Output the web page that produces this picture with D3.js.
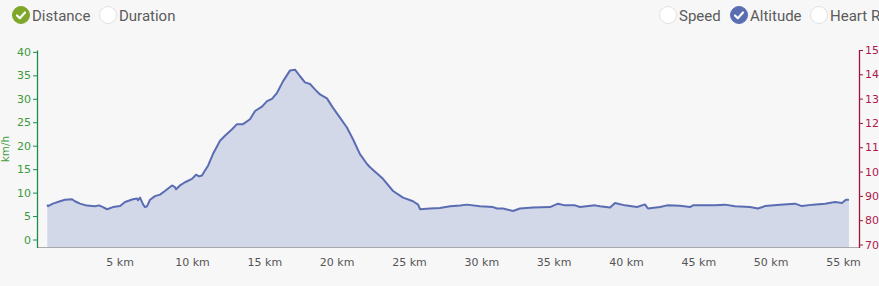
<!DOCTYPE html>
<html>
<head>
<meta charset="utf-8">
<script src="https://cdn.jsdelivr.net/npm/d3@7"></script>
<style>
  html, body { margin: 0; padding: 0; background: #f7f7f7; }
  svg { display: block; }
  .legend text { font-family: Roboto, sans-serif; font-size: 15px; fill: #5b5b5b; }
  .axis text { font-family: "DejaVu Sans", Verdana, sans-serif; font-size: 11px; }
</style>
</head>
<body>
<div id="chart-area"></div>
<script>
// SVG Size
var width = 879,
	height = 286;

// distance along the route (km) and altitude read from the profile
var distanceKm = [0, 0.05, 0.39, 0.88, 1.22, 1.71, 1.91, 2.26, 2.74, 3.30, 3.57, 3.85, 4.13, 4.54, 5.03,
	5.37, 5.92, 6.20, 6.27, 6.41, 6.62, 6.75, 6.89, 7.10, 7.44, 7.79, 8.13, 8.62, 8.82, 8.90,
	9.17, 9.52, 10.0, 10.28, 10.49, 10.69, 10.90, 11.11, 11.45, 11.94, 12.28, 12.77, 13.11, 13.53,
	14.01, 14.36, 14.84, 15.19, 15.53, 15.88, 16.29, 16.78, 17.12, 17.47, 17.81, 18.16, 18.50,
	18.85, 19.33, 19.75, 20.23, 20.71, 21.13, 21.61, 22.10, 22.31, 23.20, 23.90, 24.59, 25.28,
	25.63, 25.77, 26.46, 27.14, 27.84, 28.53, 29.01, 29.91, 30.81, 31.08, 31.50, 32.19, 32.67,
	33.57, 34.75, 35.30, 35.78, 36.48, 36.82, 37.86, 38.20, 38.90, 39.24, 39.93, 40.76, 41.31,
	41.52, 42.35, 42.84, 43.73, 44.42, 44.63, 45.46, 46.15, 46.84, 47.53, 48.57, 49.12, 49.61,
	50.64, 51.68, 52.16, 52.93, 53.76, 54.45, 54.93, 55.20, 55.41];

var altitude = [86.4, 85.8, 86.8, 87.8, 88.4, 88.6, 87.8, 86.8, 86.0, 85.7, 86.1, 85.4, 84.5, 85.4, 85.8,
	87.5, 88.6, 88.9, 88.2, 89.3, 86.5, 85.4, 85.7, 88.4, 89.9, 90.5, 92.0, 94.3, 93.6, 92.7,
	94.3, 95.6, 97.0, 98.7, 98.0, 98.4, 100.4, 102.4, 107.2, 112.7, 114.7, 117.4, 119.5, 119.5,
	121.5, 124.9, 126.7, 129.0, 129.9, 132.4, 137.1, 141.6, 141.9, 139.2, 136.7, 136.0, 133.8,
	131.7, 130.1, 126.2, 122.2, 118.1, 113.3, 107.2, 103.1, 101.8, 97.0, 92.0, 89.3, 87.8,
	86.4, 84.5, 84.8, 85.0, 85.7, 86.0, 86.4, 85.7, 85.4, 84.8, 84.8, 83.8, 84.8,
	85.2, 85.4, 86.8, 86.1, 86.1, 85.4, 86.1, 85.7, 85.2, 87.1, 86.1, 85.4, 86.5,
	84.8, 85.4, 86.1, 85.9, 85.4, 86.1, 86.1, 86.1, 86.4, 85.7, 85.4, 84.8, 85.8,
	86.4, 86.8, 85.8, 86.4, 86.8, 87.5, 87.1, 88.4, 88.4];

var speedTicks = [0, 5, 10, 15, 20, 25, 30, 35, 40];
var altitudeTicks = [70, 80, 90, 100, 110, 120, 130, 140, 150];
var kmTicks = [5, 10, 15, 20, 25, 30, 35, 40, 45, 50, 55];

var legendLeft = [{label: "Distance", on: true, color: "#7fa72a"}, {label: "Duration", on: false}];
var legendRight = [{label: "Speed", on: false}, {label: "Altitude", on: true, color: "#5a6db3"}, {label: "Heart Rate", on: false}];

var svg = d3.select("#chart-area").append("svg")
	.attr("width", width)
	.attr("height", height);

// plot box
var plotLeft = 37, plotRight = 859, plotTop = 50, plotBottom = 247.5;

var xScale = d3.scaleLinear().domain([0, 55]).range([47.3, 843]);
var speedScale = d3.scaleLinear().domain([-1.7, 40.4]).range([plotBottom, plotTop]);
var altScale = d3.scaleLinear().domain([68.77, 150.2]).range([plotBottom, 49.5]);

var points = distanceKm.map(function(d, i) { return {km: d, alt: altitude[i]}; });

// area + line
var area = d3.area()
	.x(function(d) { return xScale(d.km); })
	.y0(plotBottom)
	.y1(function(d) { return altScale(d.alt); });

var line = d3.line()
	.x(function(d) { return xScale(d.km); })
	.y(function(d) { return altScale(d.alt); });

svg.append("path")
	.datum(points)
	.attr("d", area)
	.attr("fill", "#d3d8e8");

svg.append("path")
	.datum(points)
	.attr("d", line)
	.attr("fill", "none")
	.attr("stroke", "#5a6db3")
	.attr("stroke-width", 2)
	.attr("stroke-linejoin", "round");

// x axis
svg.append("line")
	.attr("x1", plotLeft).attr("x2", plotRight)
	.attr("y1", plotBottom).attr("y2", plotBottom)
	.attr("stroke", "#aaaaaa").attr("stroke-width", 1.2);

var xAxis = d3.axisBottom(xScale).tickValues(kmTicks).tickSize(0).tickPadding(11)
	.tickFormat(function(d) { return d + " km"; });

var gx = svg.append("g")
	.attr("class", "axis xAxis")
	.attr("transform", "translate(0," + plotBottom + ")")
	.call(xAxis);
gx.select(".domain").remove();
gx.selectAll("text").attr("fill", "#555555");

// left axis (km/h)
var yAxisLeft = d3.axisLeft(speedScale).tickValues(speedTicks).tickSize(4).tickSizeOuter(0).tickPadding(2);
var gl = svg.append("g")
	.attr("class", "axis yAxisLeft")
	.attr("transform", "translate(" + plotLeft + ",0)")
	.call(yAxisLeft);
gl.select(".domain").attr("stroke", "#1e8a4c").attr("stroke-width", 1.3);
gl.selectAll(".tick line").attr("stroke", "#1e8a4c");
gl.selectAll("text").attr("fill", "#3e9a3a");

svg.append("text")
	.attr("transform", "translate(9,149) rotate(-90)")
	.attr("text-anchor", "middle")
	.attr("font-family", "DejaVu Sans, sans-serif")
	.attr("font-size", 10.5)
	.attr("fill", "#3e9a3a")
	.text("km/h");

// right axis (altitude)
var yAxisRight = d3.axisRight(altScale).tickValues(altitudeTicks).tickSize(4).tickSizeOuter(0).tickPadding(2);
var gr = svg.append("g")
	.attr("class", "axis yAxisRight")
	.attr("transform", "translate(" + plotRight + ",0)")
	.call(yAxisRight);
gr.select(".domain").attr("stroke", "#a3123f").attr("stroke-width", 1.3);
gr.selectAll(".tick line").attr("stroke", "#a3123f");
gr.selectAll("text").attr("fill", "#b0174a");

// legend toggles
function drawToggle(g, item, cx) {
	var t = g.append("g").attr("transform", "translate(" + cx + ",15)");
	t.append("circle")
		.attr("r", 8.5)
		.attr("fill", item.on ? item.color : "#ffffff")
		.attr("stroke", item.on ? item.color : "#e2e2e2")
		.attr("stroke-width", 1);
	if (item.on) {
		t.append("path")
			.attr("d", "M-4,0.5 L-1.2,3.2 L4,-2.5")
			.attr("fill", "none")
			.attr("stroke", "#ffffff")
			.attr("stroke-width", 2.2)
			.attr("stroke-linecap", "round")
			.attr("stroke-linejoin", "round");
	}
	t.append("text")
		.attr("x", 11)
		.attr("y", 5.5)
		.text(item.label);
}

var legend = svg.append("g").attr("class", "legend");
var leftPos = [21, 108];
legendLeft.forEach(function(item, i) { drawToggle(legend, item, leftPos[i]); });
var rightPos = [668, 739, 819];
legendRight.forEach(function(item, i) { drawToggle(legend, item, rightPos[i]); });
</script>
</body>
</html>
